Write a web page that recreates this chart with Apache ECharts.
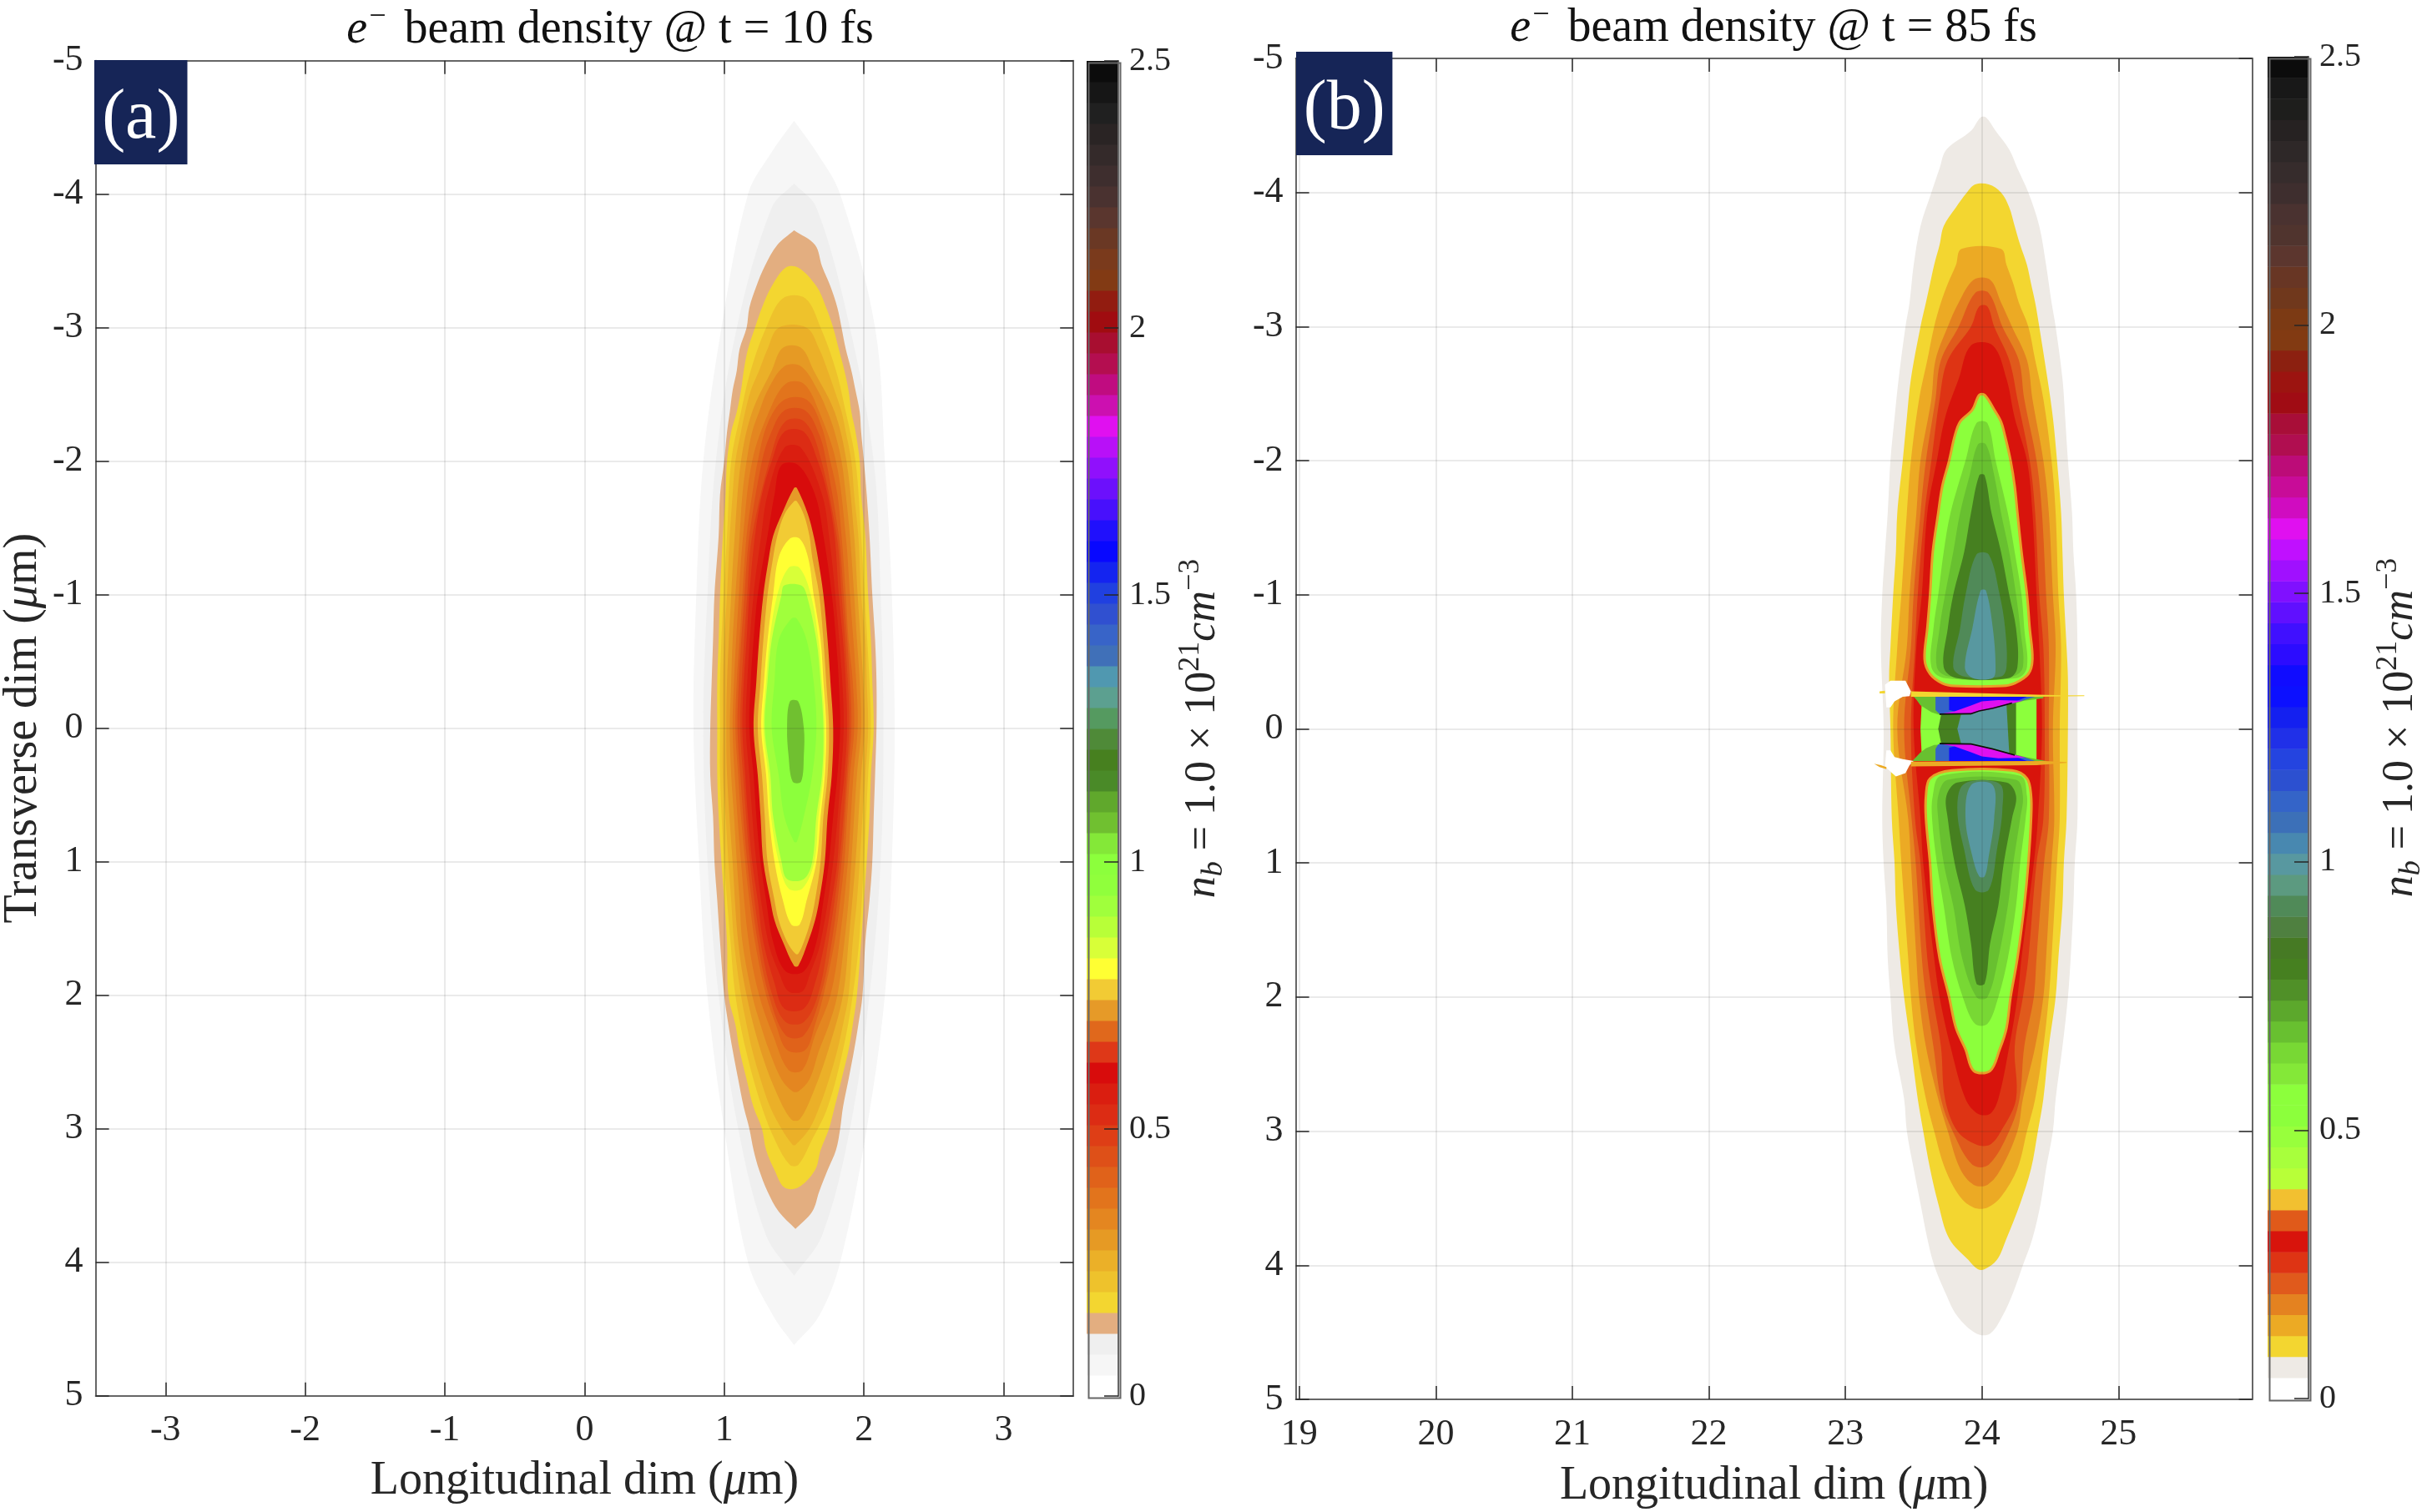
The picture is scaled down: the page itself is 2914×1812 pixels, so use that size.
<!DOCTYPE html>
<html>
<head>
<meta charset="utf-8">
<title>e- beam density</title>
<style>html,body{margin:0;padding:0;background:#fff}#main{width:2914px;height:1812px}</style>
<script src="https://cdn.jsdelivr.net/npm/echarts@6/dist/echarts.min.js"></script>
</head>
<body>
<div id="main"></div>
<script>
// tick labels
var ticksXA = [-3, -2, -1, 0, 1, 2, 3];
var ticksXB = [19, 20, 21, 22, 23, 24, 25];
var ticksY = [-5, -4, -3, -2, -1, 0, 1, 2, 3, 4, 5];
var titleA = '{i|e}{s|\u2212} beam density @ t = 10 fs';
var titleB = '{i|e}{s|\u2212} beam density @ t = 85 fs';

// 64 level colormaps, bottom (0) to top (2.5)
var paletteA = ['#ffffff','#f6f6f6','#efefef','#e3ae80','#f3d630','#eec22c','#ebb028','#e69a24','#e48620','#e2741c','#e0621a','#de5018','#de3e16','#dc2c14','#da1e10','#d80c0c',
  '#de3818','#e0681c','#e69a28','#f2cb34','#ffff33','#d8ff38','#b8ff38','#a0ff3c','#90ff3c','#8cff3c','#84e838','#70c030','#60a82c','#4a8a28','#47801f','#4f8a38',
  '#559a60','#5ca090','#5098b0','#4070b8','#3864c8','#3050d0','#2040e0','#1424f0','#0808ff','#2010fc','#4810fc','#6c10fc','#9010fc','#b810f8','#e010f0','#cc10b0',
  '#c00c80','#b40e50','#a80e30','#a00c10','#921c10','#823a14','#7a3a1c','#6a3824','#5a362e','#4a3230','#3e2e2e','#342a2a','#2a2424','#202020','#161616','#0c0c0c'];
var paletteB = ['#ffffff','#eeeae5','#f3d630','#ecaa24','#e48220','#e05a1c','#de3414','#d8140c','#e05a1a','#f2c030','#b8ff38','#a8ff3c','#98ff3c','#8cff3c','#8cff3c','#84e838',
  '#78d834','#68c030','#5ca82c','#509028','#468020','#467a24','#4f8040','#508a58','#5c9a80','#5898a0','#4888b0','#3c70b8','#3464c8','#2c50d0','#2444e0','#2030e8',
  '#1420f0','#0c10ff','#100cff','#2c0cff','#4010ff','#6010ff','#8010ff','#a010ff','#c010ff','#e010f0','#d00cc0','#c80c98','#bc0c78','#b00e50','#a80e38','#a00c14',
  '#9c1410','#8c2010','#823a12','#7c3a14','#70381c','#683624','#5c362e','#50342e','#4a3230','#3e2e2e','#362c2c','#2e2828','#262222','#1e1e1c','#181818','#0c0c0c'];

// panel (a) density contours, rows are [y, x left, x right] in um
var a_faint1 = [[-4.55,1.50,1.50],[-4.3,1.33,1.67],[-4.0,1.17,1.83],[-3.0,0.98,2.08],[-2.0,0.85,2.15],[-1.0,0.80,2.20],[0,0.78,2.22],[1.0,0.82,2.20],[2.0,0.88,2.15],[3.0,1.00,2.02],[4.0,1.17,1.83],[4.4,1.35,1.68],[4.62,1.50,1.50]];
var a_faint2 = [[-4.08,1.50,1.50],[-3.9,1.34,1.66],[-3.0,1.09,1.90],[-2.0,0.94,2.07],[-1.0,0.88,2.12],[0,0.85,2.14],[1.0,0.88,2.12],[2.0,0.96,2.04],[3.0,1.10,1.90],[3.8,1.30,1.70],[4.1,1.50,1.50]];
var a_tan = [[-3.73,1.50,1.50],[-3.62,1.38,1.65],[-3.46,1.29,1.70],[-3.31,1.23,1.76],[-3.15,1.18,1.81],[-3.00,1.16,1.84],[-2.84,1.11,1.87],[-2.68,1.09,1.91],[-2.53,1.06,1.94],[-2.37,1.04,1.97],[-2.22,1.02,1.98],[-2.00,1.00,2.00],[-1.75,0.97,2.02],[-1.44,0.96,2.04],[-1.00,0.93,2.06],[-0.66,0.92,2.08],[-0.35,0.91,2.09],[0,0.90,2.09],[0.35,0.90,2.08],[0.66,0.92,2.07],[1.00,0.93,2.06],[1.29,0.95,2.04],[1.60,0.97,2.01],[2.00,1.00,1.99],[2.22,1.03,1.96],[2.41,1.06,1.93],[2.63,1.10,1.89],[2.84,1.14,1.85],[3.00,1.18,1.83],[3.16,1.21,1.80],[3.31,1.25,1.74],[3.47,1.31,1.68],[3.62,1.39,1.63],[3.75,1.51,1.51]];
var a_yellow = [[-3.45,1.44,1.53],[-3.31,1.34,1.66],[-3.15,1.27,1.73],[-3.00,1.22,1.78],[-2.84,1.17,1.82],[-2.68,1.14,1.86],[-2.53,1.12,1.89],[-2.37,1.09,1.91],[-2.22,1.05,1.94],[-2.00,1.02,1.97],[-1.75,1.01,1.98],[-1.44,0.99,2.01],[-1.00,0.97,2.03],[-0.66,0.96,2.05],[-0.35,0.95,2.06],[0,0.95,2.07],[0.35,0.95,2.05],[0.66,0.96,2.04],[1.00,0.98,2.02],[1.29,1.00,2.00],[1.60,1.02,1.98],[2.00,1.03,1.95],[2.22,1.08,1.92],[2.41,1.11,1.89],[2.63,1.16,1.84],[2.84,1.21,1.79],[3.00,1.27,1.75],[3.16,1.30,1.69],[3.31,1.36,1.65],[3.44,1.43,1.53]];
var a_l5 = [[-3.22,1.42,1.58],[-3.00,1.30,1.69],[-2.68,1.19,1.80],[-2.37,1.12,1.87],[-2.00,1.05,1.94],[-1.44,1.02,1.98],[-1.00,0.995,2.005],[-0.35,0.97,2.04],[0,0.97,2.05],[0.35,0.97,2.03],[1.00,1.00,2.00],[1.60,1.045,1.965],[2.00,1.08,1.92],[2.41,1.155,1.85],[2.84,1.27,1.74],[3.10,1.37,1.62],[3.27,1.47,1.53]];
var a_amber = [[-3.00,1.39,1.59],[-2.84,1.31,1.68],[-2.68,1.25,1.74],[-2.53,1.19,1.79],[-2.37,1.15,1.84],[-2.22,1.12,1.87],[-2.00,1.08,1.91],[-1.75,1.06,1.93],[-1.44,1.04,1.96],[-1.00,1.02,1.98],[-0.66,1.00,2.01],[-0.35,0.99,2.02],[0,0.99,2.03],[0.35,0.99,2.01],[0.66,1.01,1.99],[1.00,1.03,1.97],[1.29,1.05,1.95],[1.60,1.07,1.92],[2.00,1.12,1.89],[2.22,1.16,1.85],[2.41,1.20,1.81],[2.63,1.26,1.75],[2.84,1.33,1.68],[3.00,1.41,1.61],[3.12,1.49,1.51]];
var a_l7 = [[-2.85,1.42,1.55],[-2.68,1.34,1.64],[-2.37,1.20,1.79],[-2.00,1.12,1.875],[-1.44,1.075,1.93],[-1.00,1.05,1.955],[-0.35,1.02,1.995],[0,1.015,2.005],[0.35,1.02,1.98],[1.00,1.06,1.94],[1.60,1.10,1.89],[2.00,1.16,1.85],[2.41,1.26,1.745],[2.72,1.37,1.64],[2.93,1.48,1.54]];
var a_orange = [[-2.71,1.43,1.55],[-2.53,1.31,1.67],[-2.37,1.25,1.74],[-2.22,1.20,1.79],[-2.00,1.16,1.84],[-1.75,1.13,1.87],[-1.44,1.11,1.90],[-1.00,1.08,1.93],[-0.66,1.06,1.95],[-0.35,1.05,1.97],[0,1.04,1.98],[0.35,1.05,1.95],[0.66,1.07,1.93],[1.00,1.09,1.91],[1.29,1.11,1.89],[1.60,1.13,1.86],[2.00,1.20,1.81],[2.22,1.26,1.75],[2.41,1.32,1.68],[2.63,1.41,1.61],[2.72,1.49,1.53]];
var a_l9 = [[-2.58,1.44,1.57],[-2.37,1.32,1.68],[-2.00,1.20,1.80],[-1.44,1.135,1.87],[-1.00,1.105,1.90],[-0.35,1.07,1.945],[0,1.06,1.955],[0.35,1.075,1.925],[1.00,1.12,1.885],[1.60,1.175,1.825],[2.00,1.25,1.76],[2.30,1.35,1.65],[2.56,1.46,1.56]];
var a_deep = [[-2.46,1.43,1.59],[-2.28,1.31,1.69],[-2.00,1.24,1.76],[-1.75,1.20,1.81],[-1.44,1.16,1.84],[-1.00,1.13,1.87],[-0.66,1.11,1.89],[-0.35,1.09,1.92],[0,1.08,1.93],[0.35,1.10,1.90],[0.66,1.12,1.88],[1.00,1.15,1.86],[1.29,1.18,1.83],[1.60,1.22,1.79],[2.00,1.30,1.71],[2.22,1.37,1.65],[2.41,1.45,1.58]];
var a_l11 = [[-2.38,1.43,1.58],[-2.20,1.33,1.68],[-2.00,1.27,1.73],[-1.44,1.18,1.82],[-1.00,1.145,1.855],[-0.35,1.105,1.90],[0,1.095,1.91],[0.35,1.115,1.885],[1.00,1.165,1.84],[1.60,1.24,1.77],[2.00,1.32,1.69],[2.30,1.44,1.57]];
var a_l12 = [[-2.30,1.44,1.57],[-2.10,1.35,1.67],[-1.44,1.20,1.805],[-1.00,1.165,1.84],[-0.35,1.125,1.885],[0,1.115,1.895],[0.35,1.135,1.875],[1.00,1.185,1.825],[1.60,1.26,1.745],[2.00,1.345,1.67],[2.20,1.44,1.57]];
var a_redorange = [[-2.22,1.43,1.57],[-2.00,1.34,1.67],[-1.75,1.27,1.74],[-1.44,1.22,1.79],[-1.00,1.18,1.82],[-0.66,1.16,1.85],[-0.35,1.14,1.87],[0,1.13,1.88],[0.35,1.15,1.86],[0.66,1.17,1.83],[1.00,1.20,1.81],[1.29,1.24,1.77],[1.60,1.28,1.72],[1.91,1.36,1.65],[2.10,1.43,1.57]];
var a_l14 = [[-2.10,1.43,1.55],[-1.75,1.31,1.70],[-1.44,1.265,1.75],[-1.00,1.21,1.795],[-0.35,1.165,1.845],[0,1.155,1.855],[0.35,1.18,1.835],[1.00,1.23,1.78],[1.60,1.315,1.69],[1.85,1.40,1.61],[1.97,1.46,1.56]];
var a_red = [[-1.97,1.41,1.53],[-1.75,1.36,1.65],[-1.44,1.31,1.71],[-1.00,1.24,1.77],[-0.66,1.21,1.80],[-0.35,1.19,1.82],[0,1.18,1.83],[0.35,1.21,1.81],[0.66,1.23,1.78],[1.00,1.26,1.75],[1.29,1.30,1.71],[1.60,1.35,1.66],[1.82,1.44,1.57]];
var a_ring = [[-1.80,1.50,1.52],[-1.60,1.41,1.60],[-1.44,1.35,1.64],[-1.28,1.32,1.67],[-1.00,1.28,1.71],[-0.66,1.25,1.74],[-0.35,1.23,1.76],[0,1.21,1.78],[0.35,1.24,1.77],[0.66,1.26,1.74],[1.00,1.28,1.72],[1.29,1.33,1.68],[1.44,1.36,1.65],[1.60,1.42,1.60],[1.78,1.50,1.53]];
var a_gold = [[-1.70,1.50,1.52],[-1.60,1.43,1.57],[-1.44,1.38,1.61],[-1.28,1.35,1.63],[-1.00,1.31,1.68],[-0.66,1.28,1.71],[-0.35,1.26,1.73],[0,1.24,1.75],[0.35,1.27,1.74],[0.66,1.29,1.71],[1.00,1.31,1.69],[1.29,1.36,1.65],[1.44,1.39,1.62],[1.60,1.45,1.57],[1.69,1.51,1.53]];
var a_yellow2 = [[-1.42,1.47,1.54],[-1.28,1.39,1.60],[-1.00,1.35,1.64],[-0.66,1.31,1.69],[-0.35,1.285,1.71],[0,1.265,1.73],[0.35,1.30,1.72],[0.66,1.32,1.69],[1.00,1.36,1.66],[1.29,1.42,1.59],[1.47,1.48,1.54]];
var a_lemon = [[-1.20,1.46,1.54],[-1.00,1.38,1.62],[-0.66,1.325,1.675],[-0.35,1.30,1.70],[0,1.28,1.72],[0.35,1.315,1.71],[0.66,1.335,1.675],[1.00,1.39,1.645],[1.20,1.46,1.56]];
var a_lime = [[-1.07,1.43,1.55],[-1.00,1.41,1.59],[-0.66,1.34,1.66],[-0.35,1.31,1.69],[0,1.29,1.71],[0.35,1.33,1.70],[0.66,1.35,1.66],[1.00,1.41,1.63],[1.13,1.45,1.57]];
var a_green = [[-0.82,1.48,1.52],[-0.66,1.39,1.59],[-0.35,1.36,1.64],[0,1.34,1.66],[0.35,1.39,1.63],[0.66,1.43,1.57],[0.85,1.50,1.52]];
var a_dark = [[-0.20,1.47,1.53],[0,1.45,1.57],[0.20,1.46,1.57],[0.40,1.49,1.55]];

// panel (b) density contours
var b_gray = [[-4.56,23.99,24.03],[-4.46,23.92,24.10],[-4.32,23.74,24.20],[-4.18,23.69,24.26],[-4.00,23.63,24.34],[-3.75,23.55,24.42],[-3.46,23.50,24.47],[-3.18,23.47,24.51],[-3.00,23.44,24.54],[-2.61,23.39,24.59],[-2.32,23.36,24.61],[-2.00,23.33,24.63],[-1.61,23.31,24.66],[-1.32,23.29,24.67],[-1.00,23.27,24.69],[-0.61,23.26,24.70],[0,23.28,24.70],[0.67,23.27,24.70],[1.00,23.28,24.68],[1.32,23.30,24.67],[1.71,23.31,24.65],[2.00,23.33,24.63],[2.37,23.36,24.59],[2.76,23.43,24.54],[3.00,23.45,24.52],[3.28,23.50,24.47],[3.54,23.55,24.43],[3.80,23.60,24.37],[4.00,23.65,24.30],[4.20,23.73,24.23],[4.38,23.82,24.15],[4.51,23.96,24.06]];
var b_yellow = [[-4.06,23.95,24.05],[-4.00,23.89,24.14],[-3.89,23.81,24.20],[-3.75,23.72,24.24],[-3.61,23.69,24.28],[-3.46,23.65,24.33],[-3.32,23.62,24.36],[-3.18,23.59,24.39],[-3.00,23.55,24.42],[-2.61,23.48,24.48],[-2.32,23.45,24.52],[-2.00,23.42,24.55],[-1.61,23.38,24.58],[-1.32,23.37,24.59],[-1.00,23.35,24.60],[-0.61,23.33,24.62],[-0.38,23.32,24.63],[0,23.33,24.63],[0.67,23.34,24.62],[1.00,23.36,24.60],[1.32,23.37,24.59],[1.71,23.40,24.56],[2.00,23.43,24.54],[2.37,23.48,24.49],[2.76,23.53,24.45],[3.00,23.57,24.41],[3.28,23.62,24.36],[3.54,23.68,24.28],[3.80,23.76,24.18],[3.96,23.90,24.11],[4.03,23.97,24.02]];
var b_amber = [[-3.58,23.85,24.14],[-3.46,23.81,24.18],[-3.32,23.75,24.23],[-3.18,23.70,24.27],[-3.00,23.65,24.34],[-2.75,23.60,24.39],[-2.46,23.54,24.45],[-2.00,23.48,24.51],[-1.61,23.45,24.54],[-1.00,23.41,24.56],[-0.61,23.38,24.58],[0,23.35,24.57],[0.67,23.39,24.57],[1.00,23.41,24.55],[1.71,23.46,24.51],[2.00,23.48,24.49],[2.37,23.52,24.45],[2.76,23.59,24.39],[3.00,23.65,24.33],[3.28,23.73,24.26],[3.49,23.84,24.14],[3.57,23.94,24.04]];
var b_orange = [[-3.35,23.94,24.06],[-3.18,23.83,24.14],[-3.00,23.75,24.22],[-2.75,23.66,24.33],[-2.46,23.63,24.37],[-2.00,23.55,24.45],[-1.61,23.52,24.49],[-1.00,23.47,24.52],[-0.61,23.45,24.54],[0,23.38,24.52],[0.67,23.46,24.53],[1.00,23.48,24.51],[1.71,23.52,24.47],[2.00,23.54,24.45],[2.37,23.59,24.39],[2.76,23.68,24.30],[3.00,23.75,24.26],[3.28,23.84,24.14],[3.40,23.94,24.04]];
var b_deep = [[-3.25,23.95,24.05],[-3.00,23.83,24.15],[-2.75,23.70,24.27],[-2.46,23.66,24.31],[-2.00,23.59,24.40],[-1.61,23.55,24.44],[-1.00,23.50,24.47],[-0.61,23.48,24.49],[0,23.43,24.49],[0.67,23.485,24.49],[1.00,23.515,24.455],[1.71,23.56,24.40],[2.00,23.59,24.38],[2.37,23.645,24.31],[2.76,23.70,24.275],[3.00,23.785,24.20],[3.25,23.93,24.05]];
var b_redorange = [[-3.15,23.98,24.04],[-3.00,23.92,24.09],[-2.75,23.75,24.20],[-2.46,23.69,24.26],[-2.00,23.63,24.35],[-1.61,23.58,24.39],[-1.00,23.53,24.42],[-0.61,23.51,24.45],[0,23.48,24.46],[0.67,23.51,24.45],[1.00,23.55,24.40],[1.71,23.60,24.34],[2.00,23.64,24.30],[2.37,23.70,24.24],[2.76,23.73,24.25],[3.00,23.82,24.14],[3.10,23.96,24.06]];
var b_red = [[-2.86,23.92,24.08],[-2.61,23.83,24.18],[-2.32,23.73,24.24],[-2.00,23.67,24.33],[-1.61,23.60,24.37],[-1.00,23.56,24.40],[-0.61,23.52,24.42],[0,23.50,24.44],[0.67,23.55,24.41],[1.00,23.57,24.38],[1.71,23.65,24.29],[2.00,23.69,24.26],[2.37,23.77,24.20],[2.76,23.88,24.12],[2.87,23.97,24.06]];
var b_limeUp = [[-2.49,23.98,24.02],[-2.38,23.93,24.09],[-2.29,23.84,24.14],[-2.18,23.80,24.17],[-2.00,23.76,24.21],[-1.81,23.71,24.24],[-1.61,23.68,24.26],[-1.32,23.64,24.29],[-1.00,23.62,24.33],[-0.75,23.60,24.35],[-0.52,23.58,24.37],[-0.41,23.62,24.34],[-0.34,23.71,24.24],[-0.32,23.80,24.15]];
var b_limeDown = [[0.31,23.78,24.22],[0.37,23.62,24.33],[0.50,23.59,24.36],[0.67,23.59,24.36],[1.00,23.62,24.34],[1.32,23.64,24.31],[1.71,23.69,24.26],[2.00,23.76,24.21],[2.23,23.81,24.18],[2.39,23.88,24.13],[2.55,23.94,24.06]];
var b_lightUp = [[-2.28,23.96,24.04],[-2.00,23.88,24.10],[-1.61,23.77,24.19],[-1.32,23.72,24.24],[-1.00,23.68,24.29],[-0.75,23.645,24.31],[-0.46,23.63,24.33],[-0.38,23.72,24.26]];
var b_lightDown = [[0.35,23.70,24.28],[0.50,23.64,24.33],[0.67,23.635,24.32],[1.00,23.67,24.28],[1.32,23.72,24.25],[1.71,23.78,24.19],[2.00,23.86,24.12],[2.20,23.95,24.04]];
var b_midUp = [[-2.12,23.97,24.03],[-1.89,23.91,24.09],[-1.61,23.84,24.14],[-1.32,23.79,24.20],[-1.00,23.73,24.25],[-0.75,23.69,24.28],[-0.46,23.67,24.30],[-0.39,23.76,24.22]];
var b_midDown = [[0.38,23.75,24.25],[0.50,23.68,24.30],[0.67,23.68,24.28],[1.00,23.72,24.23],[1.32,23.79,24.19],[1.71,23.855,24.12],[2.00,23.96,24.04]];
var b_darkUp = [[-1.89,23.98,24.02],[-1.61,23.92,24.07],[-1.32,23.87,24.14],[-1.00,23.79,24.20],[-0.75,23.75,24.25],[-0.46,23.72,24.26],[-0.38,23.81,24.20]];
var b_darkDown = [[0.40,23.82,24.18],[0.50,23.74,24.25],[0.67,23.75,24.22],[1.00,23.80,24.16],[1.32,23.875,24.12],[1.60,23.92,24.06],[1.90,23.96,24.02]];
var b_mossUp = [[-1.30,23.96,24.05],[-1.00,23.88,24.13],[-0.75,23.84,24.17],[-0.46,23.79,24.18],[-0.39,23.87,24.14]];
var b_mossDown = [[0.41,23.87,24.13],[0.60,23.82,24.15],[0.90,23.87,24.11],[1.20,23.95,24.05]];
var b_blueUp = [[-1.03,23.99,24.03],[-0.75,23.93,24.08],[-0.46,23.875,24.10],[-0.38,23.93,24.08]];
var b_blueDown = [[0.42,23.92,24.08],[0.67,23.88,24.09],[0.95,23.93,24.05],[1.10,23.98,24.02]];

// panel (b) sheath features near the axis, closed outlines of [x, y] in um
var b_notchUp = [[23.29,-0.33],[23.33,-0.36],[23.44,-0.36],[23.48,-0.28],[23.47,-0.245],[23.42,-0.24],[23.36,-0.205],[23.33,-0.16],[23.30,-0.16]];
var b_notchDown = [[23.30,0.16],[23.33,0.16],[23.36,0.21],[23.42,0.225],[23.50,0.239],[23.47,0.27],[23.44,0.33],[23.37,0.355],[23.32,0.31],[23.29,0.28]];
var b_sliceLime = [[23.56,-0.22],[24.40,-0.24],[24.40,0.24],[23.56,0.22],[23.55,0]];
var b_sliceDark = [[23.72,-0.20],[24.25,-0.20],[24.25,0.20],[23.72,0.20],[23.68,0]];
var b_sliceBlue = [[23.85,-0.12],[24.18,-0.18],[24.20,0.18],[23.85,0.12],[23.82,0]];
var b_wedgeUp = [[23.50,-0.24],[24.45,-0.24],[24.45,-0.228],[24.31,-0.21],[24.22,-0.187],[24.08,-0.149],[23.98,-0.129],[23.92,-0.108],[23.69,-0.105],[23.63,-0.125],[23.55,-0.176],[23.52,-0.218]];
var b_tealUp = [[23.66,-0.24],[24.39,-0.24],[24.31,-0.215],[24.22,-0.19],[24.08,-0.15],[23.98,-0.13],[23.92,-0.11],[23.69,-0.11],[23.66,-0.14]];
var b_indigoUp = [[23.76,-0.24],[24.33,-0.24],[24.24,-0.20],[24.08,-0.155],[23.95,-0.13],[23.86,-0.115],[23.76,-0.14]];
var b_magentaUp = [[23.69,-0.11],[23.92,-0.11],[23.98,-0.13],[24.08,-0.15],[24.22,-0.19],[24.30,-0.21],[24.12,-0.215],[24.00,-0.205],[23.92,-0.175],[23.80,-0.13]];
var b_rimUp = [[23.69,-0.105],[23.92,-0.108],[23.98,-0.129],[24.08,-0.149],[24.22,-0.187],[24.22,-0.197],[24.08,-0.159],[23.98,-0.139],[23.92,-0.118],[23.69,-0.115]];
var b_wedgeDown = [[23.49,0.239],[24.47,0.239],[24.32,0.21],[24.24,0.19],[24.08,0.145],[23.92,0.108],[23.65,0.12],[23.59,0.145],[23.55,0.176]];
var b_tealDown = [[23.66,0.239],[24.39,0.239],[24.32,0.215],[24.24,0.195],[24.08,0.15],[23.92,0.11],[23.68,0.115],[23.66,0.15]];
var b_indigoDown = [[23.76,0.239],[24.33,0.239],[24.24,0.205],[24.08,0.16],[23.95,0.13],[23.86,0.115],[23.76,0.14]];
var b_magentaDown = [[23.69,0.11],[23.92,0.11],[24.08,0.15],[24.24,0.195],[24.32,0.215],[24.12,0.22],[24.00,0.205],[23.92,0.175],[23.80,0.13]];
var b_rimDown = [[23.69,0.105],[23.92,0.108],[24.08,0.145],[24.24,0.19],[24.24,0.20],[24.08,0.155],[23.92,0.118],[23.69,0.115]];
var b_streakUp = [[23.48,-0.28],[24.40,-0.255],[24.62,-0.25],[24.75,-0.25],[24.75,-0.245],[24.40,-0.24],[23.48,-0.24]];
var b_streakDown = [[23.48,0.245],[24.46,0.24],[24.62,0.248],[24.62,0.254],[24.40,0.27],[23.48,0.28]];
var b_speckUp = [[23.25,-0.28],[23.29,-0.285],[23.29,-0.265],[23.25,-0.265]];
var b_speckDown = [[23.21,0.26],[23.26,0.27],[23.30,0.285],[23.30,0.30],[23.25,0.285]];

// draw order, outer to inner: [density, rows]
var bandsA = [[0.05,a_faint1],[0.09,a_faint2],[0.13,a_tan],[0.17,a_yellow],[0.21,a_l5],[0.26,a_amber],[0.29,a_l7],[0.33,a_orange],[0.37,a_l9],[0.41,a_deep],[0.45,a_l11],[0.49,a_l12],[0.52,a_redorange],[0.56,a_l14],[0.60,a_red],[0.72,a_ring],[0.76,a_gold],[0.80,a_yellow2],[0.84,a_lemon],[0.91,a_lime],[0.98,a_green],[1.07,a_dark]];
var bandsB = [[0.06,b_gray],[0.09,b_yellow],[0.14,b_amber],[0.18,b_orange],[0.21,b_deep],[0.25,b_redorange],[0.29,b_red],[0.55,b_limeUp],[0.55,b_limeDown],[0.63,b_lightUp],[0.63,b_lightDown],[0.69,b_midUp],[0.69,b_midDown],[0.80,b_darkUp],[0.80,b_darkDown],[0.90,b_mossUp],[0.90,b_mossDown],[1.00,b_blueUp],[1.00,b_blueDown]];
var shapesB = [[0,b_notchUp],[0,b_notchDown],[0.09,b_speckUp],[0.14,b_speckDown],[0.55,b_sliceLime],[0.80,b_sliceDark],[1.00,b_sliceBlue],[0.69,b_wedgeUp],[1.10,b_tealUp],[1.35,b_indigoUp],[1.62,b_magentaUp],[2.48,b_rimUp],[0.69,b_wedgeDown],[1.10,b_tealDown],[1.35,b_indigoDown],[1.62,b_magentaDown],[2.48,b_rimDown],[0.09,b_streakUp],[0.14,b_streakDown]];

var serif = '"Liberation Serif", "DejaVu Serif", serif';
var ink = '#262626';
var frame = '#666666';

function rowsToOutline(rows) {
    var pts = [];
    for (var i = 0; i < rows.length; i++) pts.push([rows[i][1], rows[i][0]]);
    for (var j = rows.length - 1; j >= 0; j--) pts.push([rows[j][2], rows[j][0]]);
    return pts;
}

function densitySeries(idx, palette, items, ringValue) {
    return {
        type: 'custom',
        coordinateSystem: 'cartesian2d',
        xAxisIndex: idx,
        yAxisIndex: idx,
        z: 2,
        silent: true,
        clip: true,
        animation: false,
        data: items.map(function (it, i) { return [i]; }),
        encode: { x: -1, y: -1 },
        renderItem: function (params, api) {
            var it = items[api.value(0)];
            var pts = it.pts.map(function (p) { return api.coord(p); });
            var level = Math.min(63, Math.floor(it.v / 2.5 * 64));
            var style = { fill: palette[level] };
            if (it.smooth && it.v === ringValue) { style.stroke = '#e8a028'; style.lineWidth = 3; }
            return { type: 'polygon', shape: { points: pts, smooth: it.smooth ? 0.35 : 0 }, style: style };
        }
    };
}

function colorbarSeries(idx, palette) {
    return {
        type: 'custom',
        coordinateSystem: 'cartesian2d',
        xAxisIndex: idx,
        yAxisIndex: idx,
        z: 2,
        silent: true,
        animation: false,
        data: palette.map(function (c, i) { return [i]; }),
        encode: { x: -1, y: -1 },
        renderItem: function (params, api) {
            var i = api.value(0);
            var a = api.coord([0, i * 2.5 / 64]);
            var b = api.coord([1, (i + 1) * 2.5 / 64]);
            return { type: 'rect', shape: { x: a[0], y: b[1], width: b[0] - a[0], height: a[1] - b[1] + 0.5 }, style: { fill: palette[i] } };
        }
    };
}

function labelStyle() {
    return { fontFamily: serif, fontSize: 44, color: ink };
}

var nameRich = {
    i: { fontFamily: serif, fontStyle: 'italic', fontSize: 56, color: ink },
    r: { fontFamily: serif, fontSize: 56, color: ink }
};

function xAxisBottom(grid, min, max, ticks, gapLabel, gapName) {
    return {
        type: 'value', gridIndex: grid, position: 'bottom', min: min, max: max, z: 5,
        name: '{r|Longitudinal dim (}{i|\u03bc}{r|m)}', nameLocation: 'middle', nameGap: gapName,
        nameTextStyle: { rich: nameRich },
        axisLine: { onZero: false, lineStyle: { color: frame, width: 2 } },
        axisTick: { inside: true, length: 16, customValues: ticks, lineStyle: { color: ink, width: 1.5 } },
        axisLabel: Object.assign(labelStyle(), { margin: gapLabel, customValues: ticks, formatter: function (v) { return String(v); } }),
        splitLine: { show: true, lineStyle: { color: 'rgba(30,30,30,0.13)', width: 1.5 } }
    };
}

function xAxisTop(grid, min, max, ticks) {
    return {
        type: 'value', gridIndex: grid, position: 'top', min: min, max: max, z: 5,
        axisLine: { onZero: false, lineStyle: { color: frame, width: 2 } },
        axisTick: { inside: true, length: 16, customValues: ticks, lineStyle: { color: ink, width: 1.5 } },
        axisLabel: { show: false, customValues: ticks },
        splitLine: { show: false }
    };
}

function yAxisLeft(grid, named) {
    var ax = {
        type: 'value', gridIndex: grid, position: 'left', inverse: true, min: -5, max: 5, interval: 1, z: 5,
        axisLine: { onZero: false, lineStyle: { color: frame, width: 2 } },
        axisTick: { inside: true, length: 16, customValues: ticksY, lineStyle: { color: ink, width: 1.5 } },
        axisLabel: Object.assign(labelStyle(), { margin: 15, customValues: ticksY }),
        splitLine: { show: true, lineStyle: { color: 'rgba(30,30,30,0.13)', width: 1.5 } }
    };
    if (named) {
        ax.name = '{r|Transverse dim (}{i|\u03bc}{r|m)}';
        ax.nameLocation = 'middle';
        ax.nameGap = 58;
        ax.nameTextStyle = { rich: nameRich };
    }
    return ax;
}

function yAxisRight(grid) {
    return {
        type: 'value', gridIndex: grid, position: 'right', inverse: true, min: -5, max: 5, interval: 1, z: 5,
        axisLine: { onZero: false, lineStyle: { color: frame, width: 2 } },
        axisTick: { inside: true, length: 16, lineStyle: { color: ink, width: 1.5 } },
        axisLabel: { show: false },
        splitLine: { show: false }
    };
}

var cbRich = {
    i: { fontFamily: serif, fontStyle: 'italic', fontSize: 52, color: ink },
    r: { fontFamily: serif, fontSize: 52, color: ink },
    sub: { fontFamily: serif, fontStyle: 'italic', fontSize: 36, color: ink, verticalAlign: 'bottom', lineHeight: 64 },
    sup: { fontFamily: serif, fontSize: 36, color: ink, verticalAlign: 'top', lineHeight: 64 }
};

function cbY(grid, gap) {
    return {
        type: 'value', gridIndex: grid, position: 'right', min: 0, max: 2.5, interval: 0.5, z: 5,
        name: '{i|n}{sub|b}{r| = 1.0 \u00d7 10}{sup|21}{i|cm}{sup|\u22123}',
        nameLocation: 'middle', nameGap: gap, nameRotate: 90,
        nameTextStyle: { rich: cbRich },
        axisLine: { show: true, onZero: false, lineStyle: { color: frame, width: 2 } },
        axisTick: { inside: true, length: 17, lineStyle: { color: ink, width: 1.5 } },
        axisLabel: Object.assign(labelStyle(), { fontSize: 40, margin: 13 }),
        splitLine: { show: false }
    };
}

function cbX(grid) {
    return { type: 'value', gridIndex: grid, min: 0, max: 1, show: false };
}

var titleRich = {
    i: { fontFamily: serif, fontStyle: 'italic', fontSize: 56, color: '#111' },
    s: { fontFamily: serif, fontSize: 36, color: '#111', verticalAlign: 'top', lineHeight: 66, padding: [0, 8, 0, 2] }
};

function titleOf(text, left, top) {
    return {
        text: text, left: left, top: top, textAlign: 'center', padding: 0,
        textStyle: { fontFamily: serif, fontSize: 56, fontWeight: 'normal', color: '#111', rich: titleRich }
    };
}

function badge(left, top, w, h, label) {
    return [
        { type: 'rect', left: left, top: top, z: 100, shape: { width: w, height: h }, style: { fill: '#162557' } },
        { type: 'text', z: 101, x: left + w / 2, y: top + h / 2 + 8, style: { text: label, fill: '#fff', font: '84px ' + serif, textAlign: 'center', textVerticalAlign: 'middle' } }
    ];
}

function barFrame(left, top, w, h) {
    return { type: 'rect', left: left, top: top, z: 50, shape: { width: w, height: h }, style: { fill: 'none', stroke: frame, lineWidth: 2 } };
}

var itemsA = bandsA.map(function (b) { return { v: b[0], pts: rowsToOutline(b[1]), smooth: true }; });
var itemsB = bandsB.map(function (b) { return { v: b[0], pts: rowsToOutline(b[1]), smooth: true }; })
    .concat(shapesB.map(function (b) { return { v: b[0], pts: b[1], smooth: false }; }));

var option = {
    backgroundColor: '#ffffff',
    animation: false,
    title: [titleOf(titleA, 731, 3), titleOf(titleB, 2125, 1)],
    grid: [
        { left: 114.6, top: 72.7, width: 1171.6, height: 1600, outerBoundsMode: 'none' },
        { left: 1552.6, top: 70, width: 1146, height: 1607, outerBoundsMode: 'none' },
        { left: 1302, top: 73, width: 38, height: 1600, outerBoundsMode: 'none' },
        { left: 2717, top: 68, width: 49, height: 1608, outerBoundsMode: 'none' }
    ],
    xAxis: [
        xAxisBottom(0, -3.5, 3.5, ticksXA, 20, 75),
        xAxisBottom(1, 18.974, 25.98, ticksXB, 20, 76),
        cbX(2), cbX(3),
        xAxisTop(0, -3.5, 3.5, ticksXA),
        xAxisTop(1, 18.974, 25.98, ticksXB)
    ],
    yAxis: [
        yAxisLeft(0, true),
        yAxisLeft(1, false),
        cbY(2, 69),
        cbY(3, 78),
        yAxisRight(0),
        yAxisRight(1)
    ],
    series: [
        densitySeries(0, paletteA, itemsA, null),
        densitySeries(1, paletteB, itemsB, 0.55),
        colorbarSeries(2, paletteA),
        colorbarSeries(3, paletteB)
    ],
    graphic: badge(113, 72, 111.5, 125, '(a)').concat(badge(1553, 62, 115.4, 124, '(b)'), [barFrame(1302, 73, 38, 1600), barFrame(2717, 68, 49, 1608)])
};

var myChart = echarts.init(document.getElementById('main'), null, { renderer: 'canvas' });
myChart.setOption(option);
window.addEventListener('resize', function () { myChart.resize(); });
</script>
</body>
</html>
